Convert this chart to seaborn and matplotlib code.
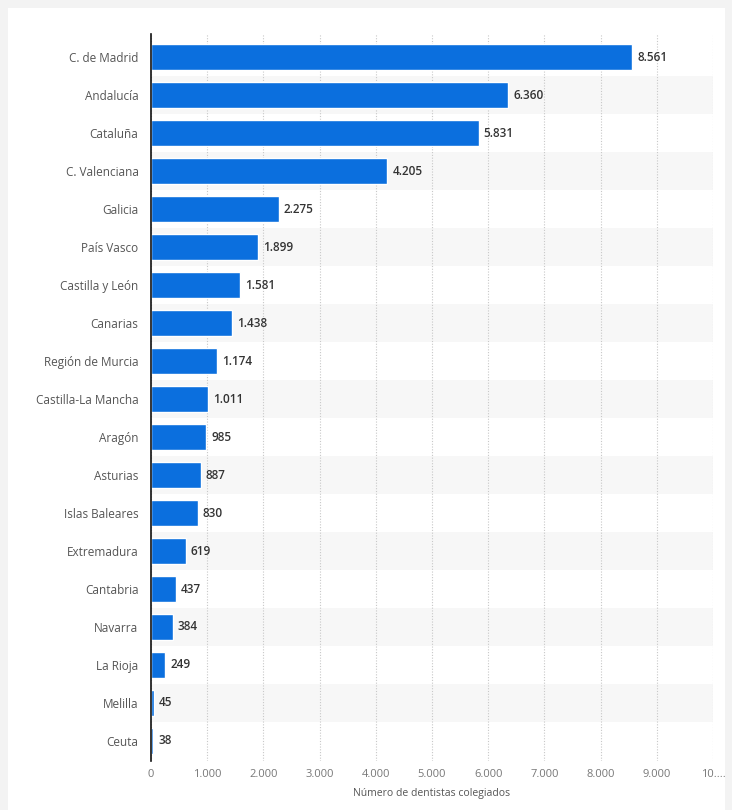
import matplotlib.pyplot as plt
import matplotlib.patches as mpatches
import numpy as np
import pandas as pd
import seaborn as sns

regions = [
    "C. de Madrid", "Andalucía", "Cataluña", "C. Valenciana", "Galicia",
    "País Vasco", "Castilla y León", "Canarias", "Región de Murcia",
    "Castilla-La Mancha", "Aragón", "Asturias", "Islas Baleares",
    "Extremadura", "Cantabria", "Navarra", "La Rioja", "Melilla", "Ceuta",
]
dentists = [8561, 6360, 5831, 4205, 2275, 1899, 1581, 1438, 1174,
            1011, 985, 887, 830, 619, 437, 384, 249, 45, 38]
x_ticks = [0, 1000, 2000, 3000, 4000, 5000, 6000, 7000, 8000, 9000, 10000]
x_tick_labels = ["0", "1.000", "2.000", "3.000", "4.000", "5.000",
                 "6.000", "7.000", "8.000", "9.000", "10...."]

df = pd.DataFrame({"region": regions, "dentists": dentists})

sns.set_theme(style="white")
plt.rcParams["font.family"] = ["Open Sans", "DejaVu Sans"]

fig = plt.figure(figsize=(7.32, 8.10), dpi=100)
fig.patch.set_facecolor("#f3f3f3")
# white card
fig.add_artist(mpatches.Rectangle((8 / 732, 0), 717 / 732, 802 / 810,
                                  transform=fig.transFigure,
                                  facecolor="white", edgecolor="none", zorder=0))

ax = fig.add_axes([151 / 732, 49.3 / 810, 562 / 732, 727 / 810])
ax.set_facecolor("none")

# alternating row bands
for i in range(len(regions)):
    if i % 2 == 1:
        ax.axhspan(i - 0.5, i + 0.5, color="#f7f7f7", zorder=0, lw=0)

sns.barplot(data=df, x="dentists", y="region", color="#0b6fde",
            saturation=1, width=0.68, ax=ax, zorder=3)

for i, v in enumerate(dentists):
    ax.text(v + 90, i, f"{v:,}".replace(",", "."), va="center", ha="left",
            fontsize=8.5, fontweight="semibold", color="#333333", zorder=4)

ax.set_xlim(0, 10000)
ax.set_ylim(len(regions) - 0.5 + 0.02, -0.5 - 0.12)
ax.set_xticks(x_ticks)
ax.set_xticklabels(x_tick_labels)
ax.xaxis.grid(True, linestyle=(0, (1, 1.5)), color="#c8c8c8", lw=0.8, zorder=1)
ax.yaxis.grid(False)

for s in ["top", "right", "bottom"]:
    ax.spines[s].set_visible(False)
ax.spines["left"].set_color("#111111")
ax.spines["left"].set_linewidth(1.2)
ax.spines["left"].set_zorder(5)

ax.tick_params(axis="y", length=0, pad=9, labelsize=8.5, labelcolor="#555555")
ax.tick_params(axis="x", length=0, pad=6, labelsize=8, labelcolor="#777777")
ax.set_ylabel("")
ax.set_xlabel("Número de dentistas colegiados", fontsize=7.5, color="#555555",
              labelpad=6)

fig.savefig("out.png", dpi=100, facecolor=fig.get_facecolor())
